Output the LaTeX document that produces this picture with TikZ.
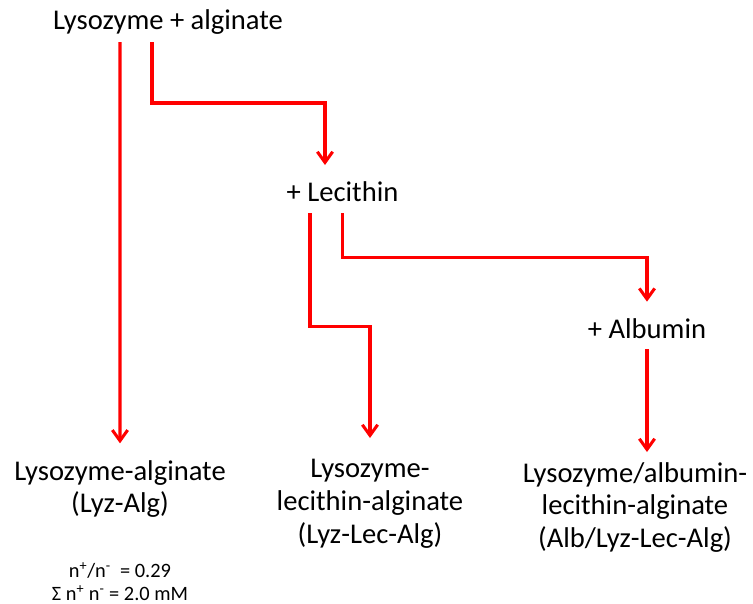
\documentclass[tikz,border=0pt]{standalone}
\usepackage{fontspec}
\setmainfont{Carlito}
\usetikzlibrary{positioning,arrows.meta,calc}

\begin{document}
\begin{tikzpicture}[
    txt/.style={inner sep=0pt,align=center,font=\fontsize{24.4}{28}\selectfont},
    note/.style={inner sep=0pt,align=center,font=\fontsize{17.4}{19.6}\selectfont},
    >={Straight Barb[length=3.2mm,width=4.6mm]},
    flow/.style={draw=red,line width=2.6pt,->}]
  \useasboundingbox (0,0) rectangle (22.59,-18.12);
  \node[txt,anchor=base] (mix) at (5.04,-0.88) {Lysozyme + alginate};
  \node[txt,anchor=base] (lec) at (10.275,-6.05) {+ Lecithin};
  \node[txt,anchor=base] (alb) at (19.41,-10.14) {+ Albumin};
  \node[txt,anchor=north] (la) at (3.6,-13.8) {Lysozyme-alginate\\(Lyz-Alg)};
  \node[txt,anchor=north] (lla) at (11.1,-13.78) {Lysozyme-\\lecithin-alginate\\(Lyz-Lec-Alg)};
  \node[txt,anchor=north] (alla) at (19.05,-13.86) {Lysozyme/albumin-\\lecithin-alginate\\(Alb/Lyz-Lec-Alg)};
  \node[note,anchor=north] (ratio) at (3.6,-16.86) {n\textsuperscript{+}/n\textsuperscript{-}~ = 0.29\\Σ n\textsuperscript{+} n\textsuperscript{-} = 2.0 mM};
  % connectors
  \draw[flow] ([xshift=-1.44cm,yshift=-0.38cm]mix.base) -- ([yshift=0.5cm]la.north);
  \draw[flow] ([xshift=-0.48cm,yshift=-0.38cm]mix.base) -- ++(0,-1.83) -| ([xshift=-0.525cm,yshift=1.1cm]lec.base);
  \draw[flow] ([xshift=-0.975cm,yshift=-0.35cm]lec.base) -- ++(0,-3.4) -| ([yshift=0.64cm]lla.north);
  \draw[flow] ([yshift=-0.35cm]lec.base) -- ++(0,-1.33) -| ([yshift=1.09cm]alb.base);
  \draw[flow] ([yshift=-0.33cm]alb.base) -- ([yshift=0.3cm]alb.base |- alla.north);
\end{tikzpicture}
\end{document}
